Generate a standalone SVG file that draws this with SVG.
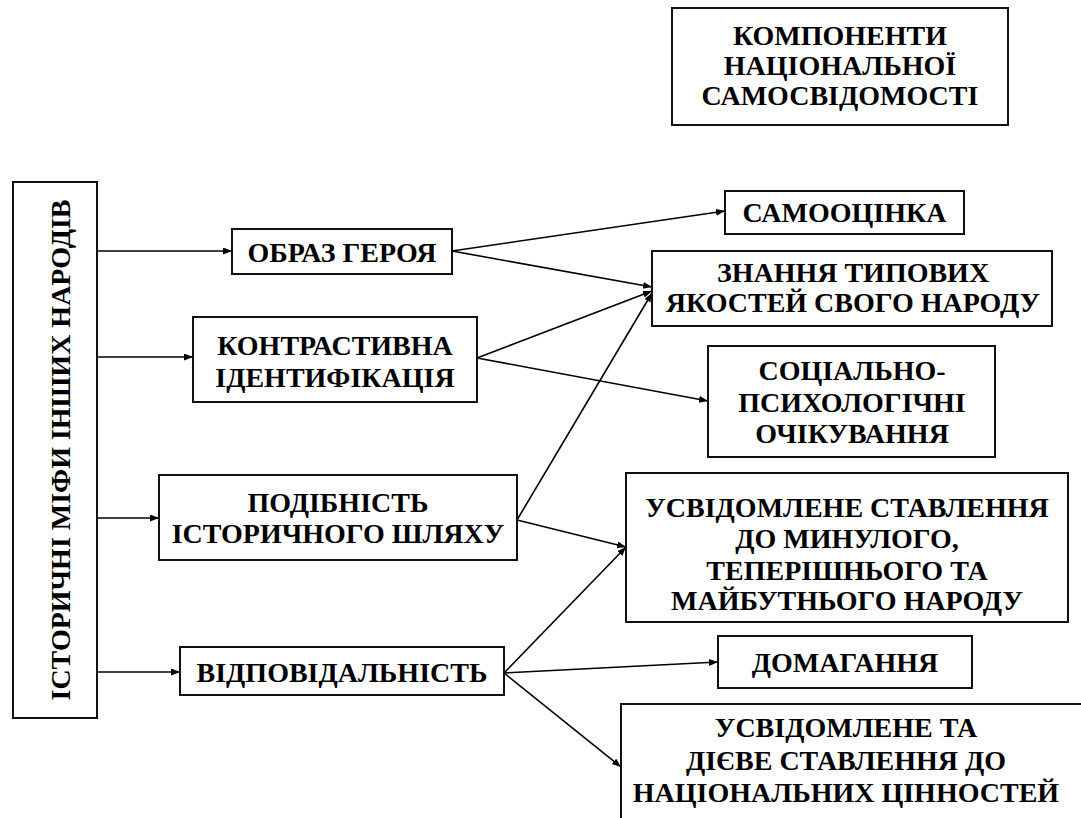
<svg xmlns="http://www.w3.org/2000/svg" width="1081" height="818" viewBox="0 0 1081 818">
<defs>
<marker id="arr" markerUnits="userSpaceOnUse" markerWidth="10" markerHeight="8" refX="9" refY="3.5" orient="auto">
<path d="M0,0 L9,3.5 L0,7 z" fill="#000"/>
</marker>
</defs>
<rect width="1081" height="818" fill="#fff"/>
<g id="connectors" stroke="#000" stroke-width="1.6" fill="none" marker-end="url(#arr)">
<line x1="97" y1="251" x2="232" y2="251"/>
<line x1="97" y1="357" x2="193" y2="357"/>
<line x1="97" y1="518" x2="159" y2="518"/>
<line x1="97" y1="672" x2="180" y2="672"/>
<line x1="452" y1="251" x2="725" y2="211"/>
<line x1="452" y1="251" x2="652" y2="287"/>
<line x1="477" y1="358" x2="652" y2="291"/>
<line x1="477" y1="358" x2="708" y2="401"/>
<line x1="517" y1="520" x2="652" y2="293"/>
<line x1="517" y1="520" x2="626" y2="547"/>
<line x1="504" y1="673" x2="626" y2="547"/>
<line x1="504" y1="673" x2="718" y2="662"/>
<line x1="504" y1="673" x2="621" y2="767"/>
</g>
<g font-family="Times New Roman" font-weight="bold" font-size="28" text-anchor="middle">
<g id="title">
<rect fill="#fff" stroke="#111" stroke-width="2" x="672" y="8" width="336" height="117"/>
<text x="840" y="45">КОМПОНЕНТИ</text>
<text x="840" y="75">НАЦІОНАЛЬНОЇ</text>
<text x="840" y="105">САМОСВІДОМОСТІ</text>
</g>
<g id="myths">
<rect fill="#fff" stroke="#111" stroke-width="2" x="13" y="182" width="84" height="536"/>
<text transform="translate(70,450) rotate(-90)" x="0" y="0">ІСТОРИЧНІ МІФИ ІНШИХ НАРОДІВ</text>
</g>
<g id="hero">
<rect fill="#fff" stroke="#111" stroke-width="2" x="232" y="229" width="220" height="45"/>
<text x="342" y="262">ОБРАЗ ГЕРОЯ</text>
</g>
<g id="contrastive">
<rect fill="#fff" stroke="#111" stroke-width="2" x="193" y="317" width="284" height="85"/>
<text x="335" y="355">КОНТРАСТИВНА</text>
<text x="335" y="387">ІДЕНТИФІКАЦІЯ</text>
</g>
<g id="similarity">
<rect fill="#fff" stroke="#111" stroke-width="2" x="159" y="475" width="358" height="85"/>
<text x="338" y="512">ПОДІБНІСТЬ</text>
<text x="338" y="543">ІСТОРИЧНОГО ШЛЯХУ</text>
</g>
<g id="responsibility">
<rect fill="#fff" stroke="#111" stroke-width="2" x="180" y="647" width="324" height="48"/>
<text x="342" y="682">ВІДПОВІДАЛЬНІСТЬ</text>
</g>
<g id="selfesteem">
<rect fill="#fff" stroke="#111" stroke-width="2" x="725" y="191" width="239" height="43"/>
<text x="844.5" y="222">САМООЦІНКА</text>
</g>
<g id="knowledge">
<rect fill="#fff" stroke="#111" stroke-width="2" x="652" y="251" width="400" height="75"/>
<text x="853" y="282">ЗНАННЯ ТИПОВИХ</text>
<text x="853" y="312">ЯКОСТЕЙ СВОГО НАРОДУ</text>
</g>
<g id="expectations">
<rect fill="#fff" stroke="#111" stroke-width="2" x="708" y="346" width="287" height="111"/>
<text x="852" y="380">СОЦІАЛЬНО-</text>
<text x="852" y="412">ПСИХОЛОГІЧНІ</text>
<text x="852" y="443">ОЧІКУВАННЯ</text>
</g>
<g id="attitude">
<rect fill="#fff" stroke="#111" stroke-width="2" x="626" y="473" width="442" height="149"/>
<text x="847" y="517">УСВІДОМЛЕНЕ СТАВЛЕННЯ</text>
<text x="847" y="548">ДО МИНУЛОГО,</text>
<text x="847" y="580">ТЕПЕРІШНЬОГО ТА</text>
<text x="847" y="610">МАЙБУТНЬОГО НАРОДУ</text>
</g>
<g id="claims">
<rect fill="#fff" stroke="#111" stroke-width="2" x="718" y="636" width="254" height="52"/>
<text x="845" y="672">ДОМАГАННЯ</text>
</g>
<g id="values">
<rect fill="#fff" stroke="#111" stroke-width="2" x="621" y="704" width="480" height="140"/>
<text x="846" y="737">УСВІДОМЛЕНЕ ТА</text>
<text x="846" y="770">ДІЄВЕ СТАВЛЕННЯ ДО</text>
<text x="846" y="802">НАЦІОНАЛЬНИХ ЦІННОСТЕЙ</text>
</g>
</g>
</svg>
